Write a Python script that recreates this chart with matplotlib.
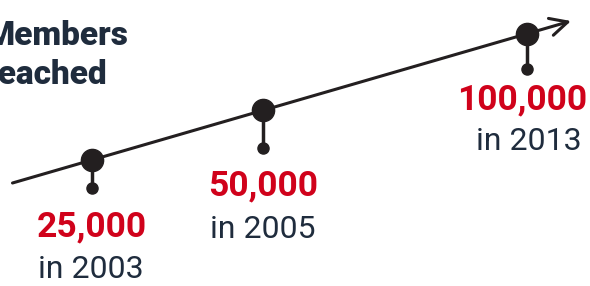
# Milestone timeline: members reached over the years

import matplotlib
import matplotlib.pyplot as plt

plt.rcParams["font.family"] = ["Roboto", "DejaVu Sans"]

# ----------------------------------------
# Data

members = [25000, 50000, 100000]
years = [2003, 2005, 2013]
title = "Members\nreached"

# ----------------------------------------
# Layout (pixel coordinates, y down)

line_start = (12.5, 183)
line_end = (571, 21)
milestone_x = [92, 263, 527]
stem_len = [28, 38, 35]
value_y = [227, 186, 100]
year_y = [270, 229, 141]
value_x = [92, 263, 522]
year_x = [91, 263, 529]

dark = "#231f20"
red = "#d0021b"
navy = "#1f2c3d"

W, H = 590, 286
fig = plt.figure(figsize=(W / 100, H / 100), dpi=100)
ax = fig.add_axes([0, 0, 1, 1])
ax.set_xlim(0, W)
ax.set_ylim(H, 0)
ax.axis("off")

# Main arrow
ax.annotate("", xy=line_end, xytext=line_start,
            arrowprops=dict(arrowstyle="->,head_length=0.9,head_width=0.45",
                            lw=2.2, color=dark, shrinkA=0, shrinkB=0,
                            mutation_scale=14))

slope = (line_end[1] - line_start[1]) / (line_end[0] - line_start[0])

for i, (val, yr) in enumerate(zip(members, years)):
  x = milestone_x[i]
  y = line_start[1] + slope * (x - line_start[0])
  ax.plot([x, x], [y, y + stem_len[i]], color=dark, lw=2.5, zorder=2)
  ax.plot(x, y, "o", ms=16, color=dark, zorder=3)
  ax.plot(x, y + stem_len[i], "o", ms=8, color=dark, zorder=3)
  ax.text(value_x[i], value_y[i], f"{val:,}", color=red, fontsize=25.5,
          fontweight="bold", ha="center", va="center")
  ax.text(year_x[i], year_y[i], f"in {yr}", color=navy, fontsize=23,
          ha="center", va="center")

ax.text(-15, 20, title, color=navy, fontsize=24, fontweight="heavy",
        ha="left", va="top", linespacing=1.3)

fig.savefig("out.png", dpi=100)
